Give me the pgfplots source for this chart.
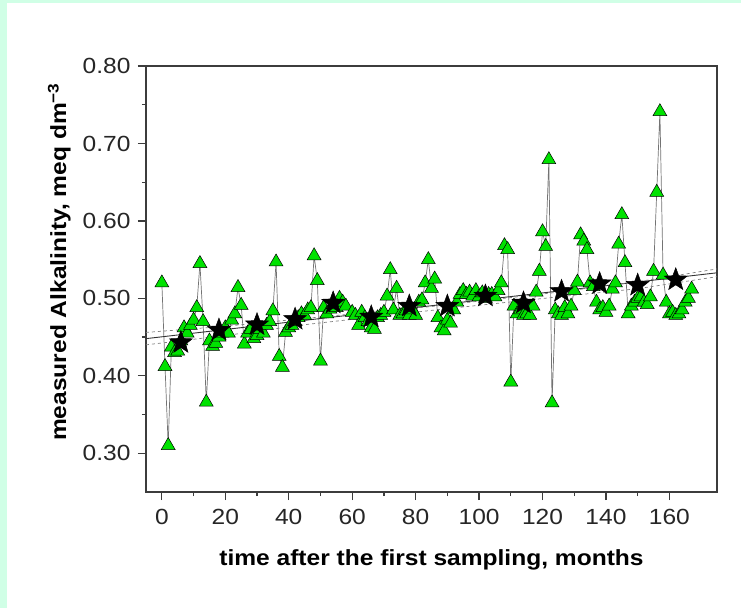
\documentclass[border=0pt]{standalone}
\usepackage{fontspec}
\setmainfont{Liberation Sans}[FakeStretch=1.12]
\usepackage{pgfplots}
\pgfplotsset{compat=1.18}
\definecolor{mint}{RGB}{208,255,230}
\definecolor{tri}{RGB}{0,226,0}
\definecolor{frame}{RGB}{60,60,60}
% filled five-pointed star
\pgfdeclareplotmark{fstar}{%
  \pgfpathmoveto{\pgfqpointpolar{90}{\pgfplotmarksize}}%
  \pgfpathlineto{\pgfqpointpolar{126}{0.42\pgfplotmarksize}}%
  \pgfpathlineto{\pgfqpointpolar{162}{\pgfplotmarksize}}%
  \pgfpathlineto{\pgfqpointpolar{198}{0.42\pgfplotmarksize}}%
  \pgfpathlineto{\pgfqpointpolar{234}{\pgfplotmarksize}}%
  \pgfpathlineto{\pgfqpointpolar{270}{0.42\pgfplotmarksize}}%
  \pgfpathlineto{\pgfqpointpolar{306}{\pgfplotmarksize}}%
  \pgfpathlineto{\pgfqpointpolar{342}{0.42\pgfplotmarksize}}%
  \pgfpathlineto{\pgfqpointpolar{18}{\pgfplotmarksize}}%
  \pgfpathlineto{\pgfqpointpolar{54}{0.42\pgfplotmarksize}}%
  \pgfpathclose
  \pgfusepathqfillstroke}
\begin{document}
\begin{tikzpicture}
\fill[mint] (-146bp,-116bp) rectangle (595bp,492bp);
\fill[white] (-139bp,-116bp) rectangle (595bp,489bp);
\begin{axis}[
  scale only axis, width=571bp, height=426bp,
  xmin=-5, xmax=175, ymin=0.25, ymax=0.80,
  axis line style={line width=1.5pt, frame},
  xtick={0,20,40,60,80,100,120,140,160}, minor x tick num=1,
  ytick={0.3,0.4,0.5,0.6,0.7,0.8}, minor y tick num=1,
  tick align=outside, tick pos=left,
  major tick length=8bp, minor tick length=4bp,
  tick style={line width=1.2pt, frame},
  yticklabel={\pgfmathprintnumber[fixed,fixed zerofill,precision=2]{\tick}},
  /pgf/number format/assume math mode=true,
  ticklabel style={font=\fontsize{22}{24}\selectfont, text=black!85},
  xticklabel style={yshift=-6bp},
  yticklabel style={xshift=-4bp},
  label style={font=\bfseries\fontsize{22}{24}\selectfont},
  xlabel={time after the first sampling, months},
  ylabel={measured Alkalinity, meq dm\textsuperscript{−3}},
  xlabel style={at={(axis description cs:0.5,0)}, anchor=center, yshift=-68bp},
  ylabel style={at={(axis description cs:-0.152,0.54)}, anchor=center},
]
% monthly samples
\pgfplotstableread{
x y
0 0.520
1 0.412
2 0.310
3 0.437
4 0.430
5 0.432
6 0.445
7 0.462
8 0.455
9 0.465
10 0.472
11 0.488
12 0.545
13 0.470
14 0.366
15 0.445
16 0.438
17 0.442
18 0.450
19 0.455
20 0.462
21 0.455
22 0.472
23 0.480
24 0.514
25 0.491
26 0.441
27 0.455
28 0.460
29 0.448
30 0.452
31 0.460
32 0.455
33 0.465
34 0.470
35 0.484
36 0.547
37 0.425
38 0.411
39 0.456
40 0.462
41 0.465
42 0.470
43 0.475
44 0.480
45 0.478
46 0.485
47 0.488
48 0.555
49 0.523
50 0.419
51 0.488
52 0.480
53 0.486
54 0.492
55 0.488
56 0.500
57 0.495
58 0.490
60 0.482
61 0.478
62 0.465
63 0.482
64 0.475
65 0.470
66 0.462
67 0.460
68 0.475
69 0.478
70 0.482
71 0.503
72 0.537
73 0.485
74 0.513
75 0.478
76 0.480
77 0.484
78 0.478
79 0.485
80 0.478
81 0.495
82 0.498
83 0.520
84 0.550
85 0.513
86 0.525
87 0.475
88 0.462
89 0.458
90 0.472
91 0.468
92 0.485
93 0.495
94 0.505
95 0.510
96 0.505
97 0.508
98 0.503
99 0.510
100 0.502
101 0.507
102 0.500
103 0.505
104 0.505
105 0.502
106 0.510
107 0.520
108 0.568
109 0.563
110 0.392
111 0.490
112 0.480
113 0.485
114 0.478
115 0.480
116 0.478
117 0.490
118 0.508
119 0.535
120 0.586
121 0.567
122 0.679
123 0.365
124 0.485
125 0.480
126 0.478
127 0.488
128 0.480
129 0.490
130 0.510
131 0.521
132 0.582
133 0.574
134 0.563
135 0.520
136 0.515
137 0.495
138 0.485
139 0.488
140 0.482
141 0.490
142 0.512
143 0.520
144 0.570
145 0.608
146 0.546
147 0.480
148 0.490
149 0.495
150 0.500
151 0.502
152 0.495
153 0.492
154 0.502
155 0.535
156 0.637
157 0.741
158 0.530
159 0.495
160 0.480
161 0.482
162 0.478
163 0.480
164 0.485
165 0.495
166 0.500
167 0.512
}\samples
\addplot[black!55, line width=0.7pt, forget plot] table {\samples};
% regression line and confidence band
\addplot[black!80, line width=0.9pt] coordinates {(-5,0.448) (175,0.533)};
\addplot[black!50, dashed, line width=0.7pt] coordinates {(-5,0.456) (20,0.464) (45,0.474) (85,0.4895) (125,0.508) (150,0.5215) (175,0.538)};
\addplot[black!50, dashed, line width=0.7pt] coordinates {(-5,0.440) (20,0.452) (45,0.466) (85,0.4845) (125,0.502) (150,0.5125) (175,0.528)};
\addplot[only marks, mark=triangle*, mark size=8bp, mark options={fill=tri, draw=black, line width=0.5pt}] table {\samples};
% yearly means
\addplot[only marks, mark=fstar, mark size=12bp, mark options={fill=black, draw=black, line width=0.5pt}] coordinates {
(6,0.443) (18,0.459) (30,0.466) (42,0.473) (54,0.494) (66,0.476) (78,0.490)
(90,0.490) (102,0.503) (114,0.494) (126,0.509) (138,0.519) (150,0.517) (162,0.524)};
\end{axis}
\pgfresetboundingbox
\useasboundingbox (-146bp,-116bp) rectangle (595bp,492bp);
\end{tikzpicture}
\end{document}
